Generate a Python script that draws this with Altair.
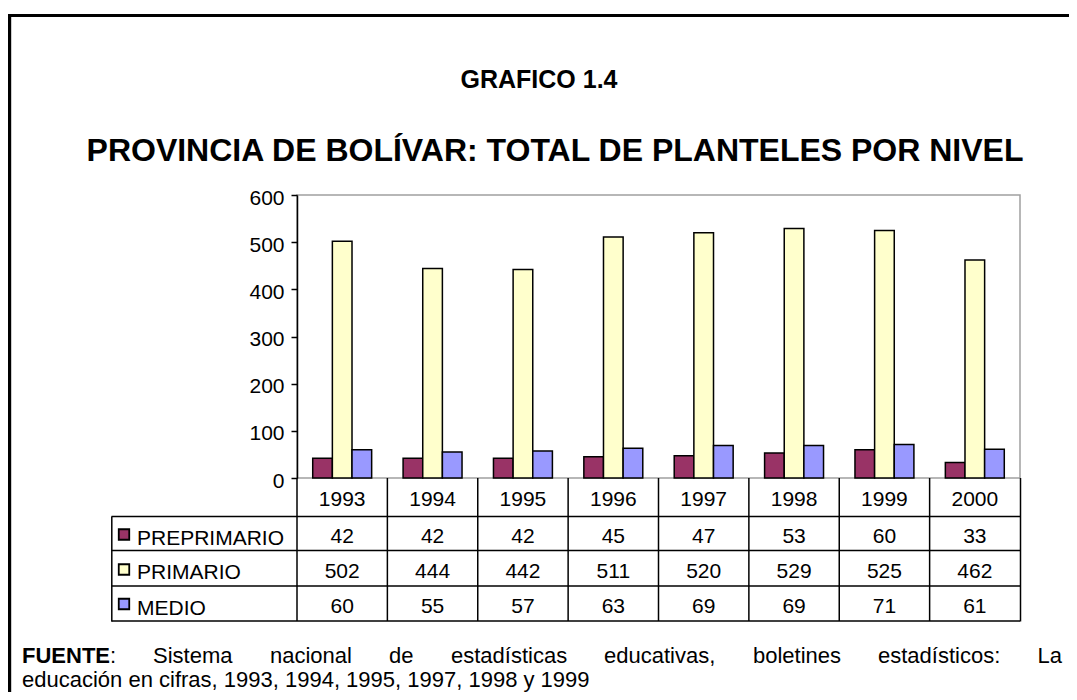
import altair as alt
import pandas as pd

years = ["1993", "1994", "1995", "1996", "1997", "1998", "1999", "2000"]
series = ["PREPRIMARIO", "PRIMARIO", "MEDIO"]
preprimario = [42, 42, 42, 45, 47, 53, 60, 33]
primario = [502, 444, 442, 511, 520, 529, 525, 462]
medio = [60, 55, 57, 63, 69, 69, 71, 61]
colors = ["#993366", "#FFFFCC", "#9999FF"]
y_ticks = [0, 100, 200, 300, 400, 500, 600]
title1 = "GRAFICO 1.4"
title2 = "PROVINCIA DE BOLÍVAR: TOTAL DE PLANTELES POR NIVEL"
footer_bold = "FUENTE"
footer_words = [":", "Sistema", "nacional", "de", "estadísticas", "educativas,",
                "boletines", "estadísticos:", "La"]
footer_line2 = "educación en cifras, 1993, 1994, 1995, 1997, 1998 y 1999"

rows = []
for s, vals in zip(series, [preprimario, primario, medio]):
    for yr, v in zip(years, vals):
        rows.append({"year": yr, "serie": s, "value": v})
df = pd.DataFrame(rows)
years_df = pd.DataFrame({"year": years})

FONT = "Liberation Sans"
FS = 21                    # table / axis font size
OX, OY = 297, 195          # page position of plot origin
W, H = 723, 283


def px(x):
    return x - OX


def py(y):
    return y - OY


def one():
    return alt.Chart(pd.DataFrame({"k": [0]}))


x_scale = alt.Scale(domain=years, paddingInner=0, paddingOuter=0)
color_scale = alt.Scale(domain=series, range=colors)

bars = alt.Chart(df).mark_bar(stroke="black", strokeWidth=1.5).encode(
    x=alt.X("year:N", scale=x_scale,
            axis=alt.Axis(labels=False, ticks=False, title=None, domainColor="black",
                          domainWidth=2.5, grid=False)),
    xOffset=alt.XOffset("serie:N", sort=series,
                        scale=alt.Scale(domain=series, paddingInner=0, paddingOuter=0.8)),
    y=alt.Y("value:Q", scale=alt.Scale(domain=[0, 600], nice=False),
            axis=alt.Axis(title=None, values=y_ticks, labelFontSize=FS, labelFont=FONT,
                          labelColor="black", tickColor="black", tickSize=6, tickWidth=1.5,
                          domainColor="black", domainWidth=1.5, grid=False,
                          labelPadding=7, labelOffset=3)),
    color=alt.Color("serie:N", scale=color_scale, legend=None),
)

layers = [bars]

# table: year header
layers.append(alt.Chart(years_df).mark_text(fontSize=FS, font=FONT, color="black",
                                            baseline="middle").encode(
    x=alt.X("year:N", axis=None), y=alt.value(py(500)), text="year:N"))

row_num_y = [536.5, 571.5, 606.5]
row_lab_y = [539, 573, 608.5]
row_sq_y = [534.5, 569.5, 604]
for i, s in enumerate(series):
    layers.append(alt.Chart(df).transform_filter(alt.datum.serie == s).mark_text(
        fontSize=FS, font=FONT, color="black", baseline="middle").encode(
        x=alt.X("year:N", axis=None), y=alt.value(py(row_num_y[i])), text="value:Q"))
    layers.append(one().mark_text(fontSize=FS, font=FONT, color="black", align="left",
                                  baseline="middle").encode(
        x=alt.value(px(137)), y=alt.value(py(row_lab_y[i])), text=alt.value(s)))
    layers.append(alt.Chart(pd.DataFrame({"serie": [s]})).mark_square(
        size=110, stroke="black", strokeWidth=1.8, opacity=1).encode(
        x=alt.value(px(124)), y=alt.value(py(row_sq_y[i])),
        color=alt.Color("serie:N", scale=color_scale, legend=None)))

# table grid
layers.append(alt.Chart(years_df).mark_rule(color="black", strokeWidth=1.5).encode(
    x=alt.X("year:N", bandPosition=0, axis=None), y=alt.value(py(478)), y2=alt.value(py(621))))


def hrule(yp, x1, x2, w=1.5, c="black"):
    return one().mark_rule(color=c, strokeWidth=w).encode(
        x=alt.value(px(x1)), x2=alt.value(px(x2)), y=alt.value(py(yp)))


def vrule(xp, y1, y2, w=1.5, c="black"):
    return one().mark_rule(color=c, strokeWidth=w).encode(
        x=alt.value(px(xp)), y=alt.value(py(y1)), y2=alt.value(py(y2)))


for yp in [516.5, 550.5, 586, 621]:
    layers.append(hrule(yp, 111.5, 1020))
layers.append(vrule(111.8, 516.5, 621.5))
layers.append(vrule(1020.5, 478, 621.5))

# outer frame
layers.append(hrule(15.5, 8, 1069, w=3.2))
layers.append(vrule(9.6, 14, 700, w=3.2))

# titles
layers.append(one().mark_text(fontSize=25, font=FONT, fontWeight="bold", color="black",
                              align="center", baseline="middle").encode(
    x=alt.value(px(539)), y=alt.value(py(80)), text=alt.value(title1)))
layers.append(one().mark_text(fontSize=32, font=FONT, fontWeight="bold", color="black",
                              align="center", baseline="middle").encode(
    x=alt.value(px(555)), y=alt.value(py(151)), text=alt.value(title2)))

# footer (justified first line)
FF = 22
word_x = [110, 153, 270, 389, 451, 604, 753, 878]
layers.append(one().mark_text(fontSize=FF, font=FONT, fontWeight="bold", color="black",
                              align="left", baseline="middle").encode(
    x=alt.value(px(22)), y=alt.value(py(656)), text=alt.value(footer_bold)))
for wx, wd in zip(word_x, footer_words[:-1]):
    layers.append(one().mark_text(fontSize=FF, font=FONT, color="black",
                                  align="left", baseline="middle").encode(
        x=alt.value(px(wx)), y=alt.value(py(656)), text=alt.value(wd)))
layers.append(one().mark_text(fontSize=FF, font=FONT, color="black",
                              align="right", baseline="middle").encode(
    x=alt.value(px(1062)), y=alt.value(py(656)), text=alt.value(footer_words[-1])))
layers.append(one().mark_text(fontSize=FF, font=FONT, color="black",
                              align="left", baseline="middle").encode(
    x=alt.value(px(22)), y=alt.value(py(680)), text=alt.value(footer_line2)))

chart = alt.layer(*layers).properties(
    width=W, height=H,
    autosize=alt.AutoSizeParams(type="none"),
    padding={"left": OX - 8, "top": OY - 8, "right": 1069 - OX - W, "bottom": 692 - OY - H},
    background="white",
).configure_view(stroke="#a0a0a0", strokeWidth=1.5)

chart.save("out.html", embed_options={"renderer": "svg", "actions": False})
